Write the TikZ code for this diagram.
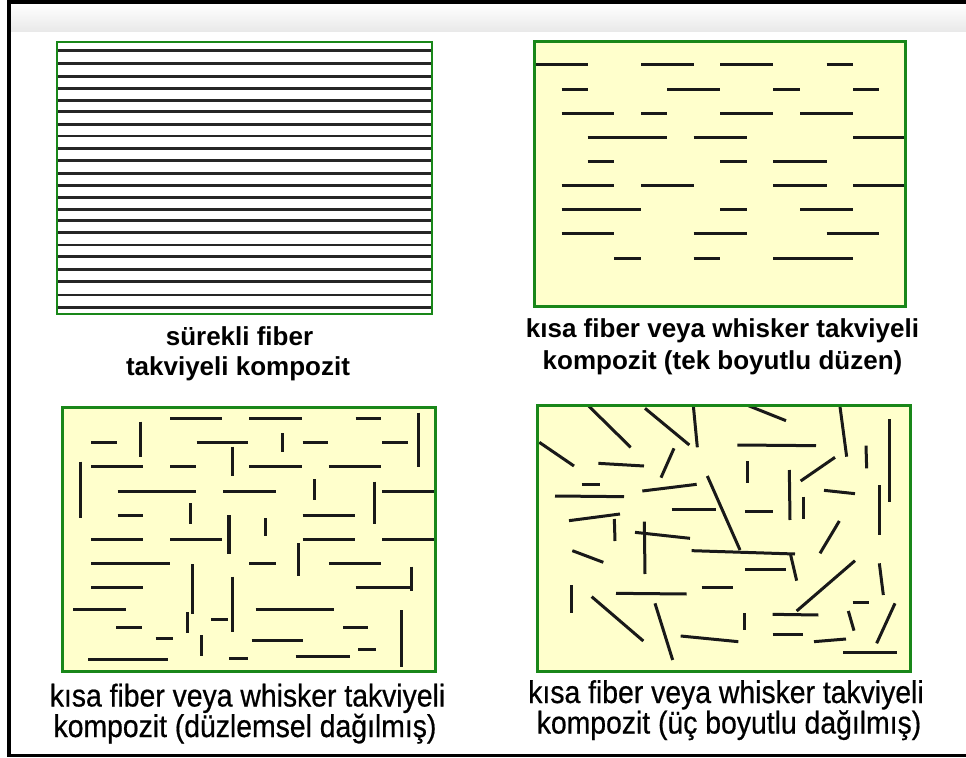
\documentclass[tikz,border=0pt]{standalone}
\usepackage{fontspec}
\setmainfont{Liberation Sans}
\newfontfamily\capfont{Liberation Sans}[FakeStretch=0.9,FakeBold=0.6]
\definecolor{pgreen}{RGB}{25,135,25}
\definecolor{pfill}{RGB}{255,255,204}
\begin{document}
\begin{tikzpicture}[x=1bp,y=-1bp,
  panel/.style={draw=pgreen,line width=3bp,fill=pfill},
  whitepanel/.style={draw=pgreen,line width=2.5bp,fill=white},
  fib/.style={line width=3bp,black!90,line cap=butt},
  cont/.style={line width=2.5bp,black!85},
  topcap/.style={anchor=base,inner sep=0pt,font=\bfseries\fontsize{26bp}{30bp}\selectfont},
  botcap/.style={anchor=base,inner sep=0pt,font=\capfont\fontsize{31.5bp}{35bp}\selectfont},
  frameline/.style={line width=3.5bp,black}]
\useasboundingbox (0,0) rectangle (966,758);
\fill[white] (0,0) rectangle (966,758);
% top gray band
\shade[top color=white,bottom color=black!9] (11,4) rectangle (966,32);
% outer frame
\draw[frameline] (966,2) -- (9,2) -- (9,755.5) -- (966,755.5);

% ---------- panel 1: continuous fibres ----------
\fill[white] (57,42) rectangle (432,314);
\begin{scope}[shift={(50,30)},scale=1/3]
  \foreach \yy in {62,100,140,175,212,245,283,318,355,392,430,466,502,538,572,607,645,680,718,755,795,833}
    \draw[cont] (22,\yy) -- (1145,\yy);
\end{scope}
\draw[whitepanel,fill=none] (57,42) rectangle (432,314);

% ---------- panel 2: short fibres aligned ----------
\fill[pfill] (534.3,41.7) rectangle (905,306.7);
\begin{scope}[shift={(525,30)},scale=1/3]
  \foreach \yy/\xa/\xb in {105/30/188,105/348/506,105/585/745,105/905/985,
      178/110/188,178/427/585,178/745/825,178/985/1062,
      250/110/268,250/348/427,250/585/745,250/825/985,
      322/188/427,322/506/665,322/985/1140,
      395/188/268,395/585/665,395/745/905,
      467/110/268,467/348/506,467/745/905,467/985/1140,
      540/110/348,540/585/665,540/825/985,
      612/110/268,612/506/665,612/905/1062,
      685/268/348,685/506/585,685/745/985}
    \draw[fib] (\xa,\yy) -- (\xb,\yy);
\end{scope}
\draw[panel,fill=none] (534.3,41.7) rectangle (905,306.7);

% ---------- panel 3: short fibres in plane ----------
\fill[pfill] (62.3,407.3) rectangle (435,671.7);
\begin{scope}[shift={(55,400)},scale=1/3]
  \foreach \yy/\xa/\xb in {55/345/502,55/583/740,55/902/978,
      128/108/185,128/425/580,128/743/820,128/982/1058,
      200/108/265,200/345/422,200/583/740,200/822/978,
      273/188/422,273/505/662,273/982/1140,
      345/188/265,345/743/900,
      418/108/265,418/345/502,418/743/900,418/982/1140,
      490/108/345,490/583/662,490/822/978,
      563/108/265,563/902/1068,
      627/55/212,627/602/838,
      657/468/520,
      682/183/260,682/865/940,
      715/302/355,
      720/590/745,
      748/910/962,
      770/722/885,
      778/100/338,
      775/522/578}
    \draw[fib] (\xa,\yy) -- (\xb,\yy);
  \foreach \xx/\ya/\yb in {255/65/172,75/185/355,532/140/228,682/100/155,
      1090/38/200,780/238/300,960/245/372,405/310/372,522/345/462,
      632/355/408,732/430/527,412/492/642,532/530/695,1070/500/572,
      398/637/698,438/705/768,1040/630/800}
    \draw[fib] (\xx,\ya) -- (\xx,\yb);
\end{scope}
\draw[panel,fill=none] (62.3,407.3) rectangle (435,671.7);

% ---------- panel 4: short fibres random ----------
\fill[pfill] (537.3,405.7) rectangle (910,671.7);
\begin{scope}[shift={(530,395)},scale=1/3]
  \foreach \xa/\ya/\xb/\yb in {175/32/302/157,345/40/478/150,490/32/502/157,
      655/32/768/77,930/35/950/185,1078/72/1078/320,28/142/132/213,
      205/205/342/213,432/160/393/248,622/150/858/152,652/198/652/265,
      1008/152/1010/220,915/187/812/258,155/268/210/268,75/303/282/305,
      337/288/500/268,532/243/630/465,778/225/780/375,820/305/820/372,
      882/286/975/296,1048/270/1048/420,425/342/558/342,645/350/728/350,
      117/377/270/357,253/372/255/438,343/380/345/537,315/412/480/430,
      928/378/870/475,127/467/220/502,485/467/795/477,782/480/800/557,
      645/522/768/522,975/497/800/648,1048/505/1060/600,125/570/125/655,
      258/595/470/597,515/577/608/577,185/605/340/738,375/625/428/795,
      642/655/642/705,728/658/865/660,968/622/1018/622,1095/625/1040/745,
      955/648/972/707,452/723/625/740,728/718/818/718,852/740/948/732,
      940/772/1100/772}
    \draw[fib] (\xa,\ya) -- (\xb,\yb);
\end{scope}
\draw[panel,fill=none] (537.3,405.7) rectangle (910,671.7);

% ---------- captions ----------
\node[topcap] (c1a) at (239.5,345.5) {sürekli fiber};
\node[topcap] (c1b) at (238,375) {takviyeli kompozit};
\node[topcap] (c2a) at (722.5,337.5) {kısa fiber veya whisker takviyeli};
\node[topcap] (c2b) at (722.5,369.5) {kompozit (tek boyutlu düzen)};
\node[botcap] (c3a) at (247.5,706.5) {kısa fiber veya whisker takviyeli};
\node[botcap] (c3b) at (245,737) {kompozit (düzlemsel dağılmış)};
\node[botcap] (c4a) at (726,703) {kısa fiber veya whisker takviyeli};
\node[botcap] (c4b) at (729,733.5) {kompozit (üç boyutlu dağılmış)};
\end{tikzpicture}
\end{document}
